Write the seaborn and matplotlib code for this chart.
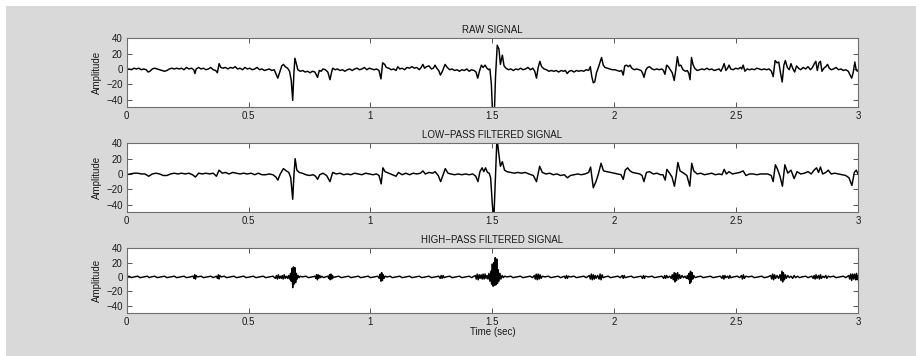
import matplotlib
matplotlib.use("Agg")
import matplotlib.pyplot as plt
import seaborn as sns
import numpy as np
from matplotlib.patches import Rectangle

# ---------------- data ----------------
titles = ["RAW SIGNAL", "LOW\u2212PASS FILTERED SIGNAL", "HIGH\u2212PASS FILTERED SIGNAL"]
x_ticks = [0, 0.5, 1, 1.5, 2, 2.5, 3]
x_tick_labels = ["0", "0.5", "1", "1.5", "2", "2.5", "3"]
y_ticks = [-40, -20, 0, 20, 40]
y_tick_labels = ["\u221240", "\u221220", "0", "20", "40"]

raw_points = [
    (0.000, -1), (0.010, 0), (0.020, -1), (0.030, 1), (0.040, 0), (0.050, 1), (0.060, -1), (0.070, 0),
    (0.080, -1), (0.088, -4), (0.095, -3), (0.105, 0), (0.115, 1), (0.125, 0), (0.135, -1), (0.145, -2),
    (0.155, -3), (0.165, -2), (0.175, 0), (0.185, 1), (0.195, 0), (0.205, 1), (0.215, 0), (0.225, 1),
    (0.235, -1), (0.245, 2), (0.255, 0), (0.265, 1), (0.275, -1), (0.280, -6), (0.285, 0), (0.295, 2),
    (0.305, 0), (0.315, 1), (0.325, -1), (0.335, 0), (0.345, 2), (0.355, -1), (0.365, -2), (0.372, -5),
    (0.379, 7), (0.386, 2), (0.395, 1), (0.405, 2), (0.415, 0), (0.425, 2), (0.435, 1), (0.445, 3),
    (0.455, 0), (0.465, 1), (0.475, -1), (0.485, 2), (0.495, 0), (0.505, 1), (0.515, -1), (0.525, 0),
    (0.535, 2), (0.545, -1), (0.555, 0), (0.565, -2), (0.575, -1), (0.585, 0), (0.595, -2), (0.605, -1),
    (0.612, -6), (0.620, -12), (0.628, -4), (0.636, 4), (0.643, 6), (0.650, 3), (0.660, 1), (0.668, -3),
    (0.675, -15), (0.681, -41), (0.686, -5), (0.690, 14), (0.695, 8), (0.702, -1), (0.712, -3), (0.722, -2),
    (0.732, -4), (0.742, -3), (0.752, -5), (0.762, -3), (0.772, -4), (0.778, -8), (0.783, -11), (0.790, -2),
    (0.798, -3), (0.805, 0), (0.815, -1), (0.825, -4), (0.834, -14), (0.840, -5), (0.845, 1), (0.855, -1),
    (0.865, 0), (0.875, -2), (0.885, -1), (0.895, -3), (0.905, -1), (0.915, 0), (0.925, -2), (0.935, 0),
    (0.945, 1), (0.955, -1), (0.965, 0), (0.975, 2), (0.985, -1), (0.995, 1), (1.005, 0), (1.015, -1),
    (1.025, 0), (1.035, -2), (1.043, -13), (1.050, 8), (1.058, 6), (1.065, 2), (1.075, 1), (1.085, -1),
    (1.095, 0), (1.105, -2), (1.112, 3), (1.120, 0), (1.130, 1), (1.140, -1), (1.150, 2), (1.160, 1),
    (1.170, 3), (1.180, 1), (1.190, 2), (1.200, -1), (1.208, 2), (1.215, 6), (1.222, 1), (1.230, 3),
    (1.240, 4), (1.250, 0), (1.258, 1), (1.265, 5), (1.272, 1), (1.280, -2), (1.287, -8), (1.295, -3),
    (1.306, 6), (1.315, 2), (1.325, -1), (1.335, 0), (1.345, -2), (1.355, -1), (1.365, -3), (1.375, -1),
    (1.385, -2), (1.395, 0), (1.405, -3), (1.415, -1), (1.425, -2), (1.433, -4), (1.440, -12), (1.447, -3),
    (1.455, 5), (1.462, 2), (1.470, 5), (1.478, 1), (1.485, -1), (1.490, 0), (1.496, -20), (1.501, -60),
    (1.508, -60), (1.513, -10), (1.520, 31), (1.527, 26), (1.533, 6), (1.541, 18), (1.548, 4), (1.556, 1),
    (1.566, -1), (1.576, 0), (1.586, -2), (1.596, 0), (1.606, -1), (1.616, 1), (1.626, -1), (1.636, 0),
    (1.646, 2), (1.656, -1), (1.666, 1), (1.674, -3), (1.681, -12), (1.688, 2), (1.695, 10), (1.702, 3),
    (1.712, 0), (1.722, -1), (1.732, -3), (1.742, -2), (1.752, -3), (1.762, -2), (1.772, -4), (1.782, -2),
    (1.792, -3), (1.800, -2), (1.807, -6), (1.815, -3), (1.825, -2), (1.835, -4), (1.845, -2), (1.855, -3),
    (1.865, -2), (1.875, -3), (1.885, -1), (1.895, -2), (1.902, 3), (1.908, -10), (1.914, -18), (1.920, -17),
    (1.927, -5), (1.935, 2), (1.942, 9), (1.948, 15), (1.955, 5), (1.962, 2), (1.972, 1), (1.982, 0),
    (1.992, -1), (2.002, -1), (2.012, -2), (2.022, -3), (2.030, -2), (2.037, -8), (2.043, 4), (2.050, 5),
    (2.058, 3), (2.065, 5), (2.072, 1), (2.082, -1), (2.092, 0), (2.102, -1), (2.110, -2), (2.116, -5),
    (2.122, -11), (2.130, -1), (2.137, 2), (2.145, 3), (2.155, 0), (2.165, -1), (2.175, 0), (2.185, -1),
    (2.195, 0), (2.202, -2), (2.208, -7), (2.215, 5), (2.222, 3), (2.230, -1), (2.238, -5), (2.246, -15),
    (2.253, 0), (2.259, 16), (2.266, 4), (2.273, 5), (2.282, -1), (2.292, -3), (2.300, -2), (2.306, -6),
    (2.311, -14), (2.317, 15), (2.323, 6), (2.330, 1), (2.340, -2), (2.350, -1), (2.360, 0), (2.370, -1),
    (2.380, 1), (2.390, -1), (2.400, 0), (2.410, -2), (2.420, -1), (2.430, 0), (2.438, -3), (2.445, 2),
    (2.451, 7), (2.458, -2), (2.465, 1), (2.471, 5), (2.478, 0), (2.488, -1), (2.498, 1), (2.508, 0),
    (2.518, 2), (2.523, 0), (2.529, 5), (2.536, -3), (2.545, 0), (2.555, -1), (2.565, 0), (2.575, -1),
    (2.585, 1), (2.595, 0), (2.605, -1), (2.615, 0), (2.625, -1), (2.635, 0), (2.645, -3), (2.652, -10),
    (2.660, 11), (2.668, 8), (2.675, 9), (2.682, -5), (2.689, -17), (2.696, 5), (2.702, 11), (2.710, 2),
    (2.718, -1), (2.725, 7), (2.732, 1), (2.740, -4), (2.748, 4), (2.756, 1), (2.765, -1), (2.775, 2),
    (2.785, 0), (2.795, 3), (2.805, -1), (2.813, 2), (2.821, 7), (2.827, 10), (2.833, -2), (2.840, 8),
    (2.846, 10), (2.852, -3), (2.860, 1), (2.868, 3), (2.875, 6), (2.882, 1), (2.890, -1), (2.900, 0),
    (2.910, 2), (2.920, -1), (2.930, 0), (2.940, -2), (2.950, -1), (2.960, -3), (2.968, -8), (2.974, -12),
    (2.980, -5), (2.987, 9), (2.993, -2), (3.000, -3),
]

low_points = [
    (0.000, -1), (0.015, 0), (0.030, 1), (0.045, 1), (0.060, 0), (0.075, 0), (0.090, -3), (0.105, 0),
    (0.120, 1), (0.135, 0), (0.150, -2), (0.165, -2), (0.180, 0), (0.195, 1), (0.210, 0), (0.225, 1),
    (0.240, 0), (0.255, 1), (0.270, -1), (0.282, -4), (0.295, 1), (0.310, 0), (0.325, 1), (0.340, 0),
    (0.355, 1), (0.368, -3), (0.379, 5), (0.392, 1), (0.405, 2), (0.420, 0), (0.435, 2), (0.450, 1),
    (0.465, 0), (0.480, 1), (0.495, 0), (0.510, 1), (0.525, -1), (0.540, 1), (0.555, -1), (0.570, -1),
    (0.585, 0), (0.600, -1), (0.612, -4), (0.620, -8), (0.630, 0), (0.643, 7), (0.655, 4), (0.665, 2),
    (0.673, -5), (0.681, -33), (0.686, -2), (0.691, 20), (0.698, 5), (0.708, 2), (0.720, 1), (0.735, -1),
    (0.750, -2), (0.765, -1), (0.775, -3), (0.783, -7), (0.792, -1), (0.805, 1), (0.820, -2), (0.834, -10),
    (0.845, 2), (0.860, 0), (0.875, 1), (0.890, -1), (0.905, 0), (0.920, -1), (0.935, 1), (0.950, 0),
    (0.965, -1), (0.980, 1), (0.995, 0), (1.010, -1), (1.025, 0), (1.035, -2), (1.044, -13), (1.051, 8),
    (1.060, 3), (1.075, 1), (1.090, -1), (1.105, -3), (1.115, 2), (1.130, -1), (1.145, 1), (1.160, -1),
    (1.175, 1), (1.190, 0), (1.205, 1), (1.215, 4), (1.225, 0), (1.240, 2), (1.255, 1), (1.265, 3),
    (1.278, -2), (1.288, -10), (1.297, -2), (1.307, 7), (1.318, 1), (1.330, 0), (1.345, -1), (1.360, 0),
    (1.375, -1), (1.390, 0), (1.405, -1), (1.420, 0), (1.432, -3), (1.441, -10), (1.449, 3), (1.458, 8),
    (1.465, 3), (1.472, 8), (1.480, 2), (1.487, 1), (1.493, -5), (1.500, -40), (1.506, -60), (1.512, -10),
    (1.519, 48), (1.525, 30), (1.533, 10), (1.541, 16), (1.550, 5), (1.560, 3), (1.575, 2), (1.590, 1),
    (1.605, 2), (1.620, 1), (1.635, 2), (1.650, 0), (1.668, -2), (1.681, -10), (1.694, 10), (1.705, 2),
    (1.720, 0), (1.735, 1), (1.750, -1), (1.765, 0), (1.780, -2), (1.795, -1), (1.808, -5), (1.820, -2),
    (1.835, -1), (1.850, 0), (1.865, -1), (1.880, 0), (1.895, 2), (1.903, 9), (1.914, -18), (1.925, -10),
    (1.935, 0), (1.946, 14), (1.956, 4), (1.970, 3), (1.985, 2), (2.000, 1), (2.015, 0), (2.028, -1),
    (2.037, -7), (2.045, 5), (2.055, 8), (2.065, 4), (2.075, 2), (2.090, 1), (2.105, 0), (2.114, -2),
    (2.122, -10), (2.132, 2), (2.145, 3), (2.160, 0), (2.175, 1), (2.190, -1), (2.200, -1), (2.209, -8),
    (2.216, 6), (2.225, 2), (2.237, -4), (2.247, -16), (2.255, 0), (2.261, 15), (2.270, 4), (2.285, 1),
    (2.298, -2), (2.310, -16), (2.318, 14), (2.326, 4), (2.340, 0), (2.355, 1), (2.370, -1), (2.385, 0),
    (2.400, 1), (2.415, -1), (2.430, 0), (2.442, -1), (2.451, 6), (2.460, 0), (2.471, 3), (2.485, 0),
    (2.500, 1), (2.515, 2), (2.529, 4), (2.540, -2), (2.555, 0), (2.570, 0), (2.585, -1), (2.600, 0),
    (2.615, 0), (2.630, 0), (2.644, -2), (2.652, -10), (2.661, 12), (2.670, 6), (2.680, -3), (2.690, -16),
    (2.700, 12), (2.712, 1), (2.725, 5), (2.738, -6), (2.750, 3), (2.765, 0), (2.780, 1), (2.795, 3),
    (2.808, 0), (2.820, 5), (2.830, 8), (2.838, 2), (2.846, 9), (2.855, 0), (2.868, 2), (2.878, 5),
    (2.890, 0), (2.905, 1), (2.920, 0), (2.935, -1), (2.950, -2), (2.963, -5), (2.975, -15), (2.985, 2),
    (2.993, 5), (3.000, 0),
]

high_points = [
    (0.000, 0), (0.010, 1), (0.020, -1), (0.030, 0), (0.045, 1), (0.055, -1), (0.070, 0), (0.085, 1),
    (0.092, -1), (0.100, 0), (0.115, 1), (0.125, -1), (0.140, 0), (0.155, 1), (0.165, -1), (0.180, 0),
    (0.195, 1), (0.205, -1), (0.220, 0), (0.235, 1), (0.245, -1), (0.260, 0), (0.272, 1), (0.276, -2),
    (0.279, 3), (0.282, -3), (0.285, 2), (0.290, 0), (0.305, 1), (0.315, -1), (0.330, 0), (0.345, 1),
    (0.355, -1), (0.368, 1), (0.372, -2), (0.376, 3), (0.379, -3), (0.382, 2), (0.388, 0), (0.400, 1),
    (0.410, -1), (0.425, 0), (0.440, 1), (0.450, -1), (0.465, 0), (0.480, 1), (0.490, -1), (0.505, 0),
    (0.520, 1), (0.530, -1), (0.545, 0), (0.560, 1), (0.570, -1), (0.585, 0), (0.600, 1), (0.610, -2),
    (0.614, 2), (0.618, -3), (0.622, 3), (0.626, -2), (0.630, 1), (0.634, -2), (0.638, 2), (0.642, -3),
    (0.646, 3), (0.650, -2), (0.655, 1), (0.660, -2), (0.664, 2), (0.668, -3), (0.672, 5), (0.675, -6),
    (0.678, 12), (0.681, -15), (0.684, 14), (0.687, -10), (0.690, 13), (0.693, -8), (0.696, 5), (0.699, -3),
    (0.703, 2), (0.707, -1), (0.712, 1), (0.720, 0), (0.735, 1), (0.745, -1), (0.760, 0), (0.772, 1),
    (0.776, -2), (0.779, 3), (0.782, -4), (0.785, 3), (0.788, -2), (0.792, 2), (0.796, -1), (0.800, 1),
    (0.808, -1), (0.815, 0), (0.825, 1), (0.829, -2), (0.832, 3), (0.835, -4), (0.838, 4), (0.841, -3),
    (0.844, 2), (0.848, -1), (0.855, 0), (0.870, 1), (0.880, -1), (0.895, 0), (0.910, 1), (0.920, -1),
    (0.935, 0), (0.950, 1), (0.960, -1), (0.975, 0), (0.990, 1), (1.000, -1), (1.015, 0), (1.030, 1),
    (1.036, -2), (1.040, 4), (1.043, -6), (1.046, 6), (1.049, -5), (1.052, 3), (1.056, -2), (1.060, 1),
    (1.068, 0), (1.080, 1), (1.090, -1), (1.105, 0), (1.120, 1), (1.130, -1), (1.145, 0), (1.160, 1),
    (1.170, -1), (1.185, 0), (1.200, 1), (1.210, -1), (1.225, 0), (1.240, 1), (1.250, -1), (1.265, 0),
    (1.280, 1), (1.286, -2), (1.290, 2), (1.294, -2), (1.298, 2), (1.302, -1), (1.310, 0), (1.325, 1),
    (1.335, -1), (1.350, 0), (1.365, 1), (1.375, -1), (1.390, 0), (1.405, 1), (1.415, -1), (1.430, 2),
    (1.434, -3), (1.438, 4), (1.442, -4), (1.446, 3), (1.450, -2), (1.454, 3), (1.458, -3), (1.462, 4),
    (1.466, -3), (1.470, 4), (1.474, -2), (1.478, 2), (1.482, -3), (1.486, 5), (1.490, -6), (1.494, 8),
    (1.497, -10), (1.500, 18), (1.503, -13), (1.506, 20), (1.509, -12), (1.512, 27), (1.515, -11), (1.518, 25),
    (1.521, -9), (1.524, 10), (1.527, -6), (1.531, 5), (1.535, -3), (1.540, 2), (1.545, -1), (1.550, 1),
    (1.560, 0), (1.575, 1), (1.585, -1), (1.600, 0), (1.615, 1), (1.625, -1), (1.640, 0), (1.655, 1),
    (1.665, -1), (1.672, 2), (1.676, -3), (1.680, 4), (1.684, -4), (1.688, 4), (1.692, -3), (1.696, 3),
    (1.700, -2), (1.705, 1), (1.715, 0), (1.730, 1), (1.740, -1), (1.755, 0), (1.770, 1), (1.780, -1),
    (1.795, 1), (1.800, -2), (1.804, 2), (1.808, -2), (1.812, 1), (1.820, 0), (1.835, 1), (1.845, -1),
    (1.860, 0), (1.875, 1), (1.885, -1), (1.898, 2), (1.902, -3), (1.906, 4), (1.910, -4), (1.914, 3),
    (1.918, -3), (1.922, 2), (1.926, -2), (1.932, 2), (1.938, -3), (1.942, 4), (1.946, -4), (1.950, 3),
    (1.955, -1), (1.962, 0), (1.975, 1), (1.985, -1), (2.000, 0), (2.015, 1), (2.025, -1), (2.033, 2),
    (2.037, -2), (2.041, 2), (2.045, -1), (2.055, 0), (2.070, 1), (2.080, -1), (2.095, 0), (2.110, 1),
    (2.116, -2), (2.120, 2), (2.124, -2), (2.128, 1), (2.140, 0), (2.155, 1), (2.165, -1), (2.180, 0),
    (2.195, 1), (2.203, -2), (2.207, 2), (2.211, -2), (2.215, 2), (2.220, -1), (2.228, 1), (2.234, -2),
    (2.238, 3), (2.242, -4), (2.246, 6), (2.249, -7), (2.252, 5), (2.256, -5), (2.260, 6), (2.264, -3),
    (2.268, 3), (2.272, -2), (2.278, 2), (2.284, -1), (2.290, 1), (2.296, -2), (2.300, 2), (2.304, -3),
    (2.307, 5), (2.310, -9), (2.313, 8), (2.316, -7), (2.319, 6), (2.322, -3), (2.326, 2), (2.332, -1),
    (2.340, 0), (2.355, 1), (2.365, -1), (2.380, 0), (2.395, 1), (2.405, -1), (2.420, 0), (2.435, 1),
    (2.442, -2), (2.446, 2), (2.450, -3), (2.454, 2), (2.458, -1), (2.465, 1), (2.470, -2), (2.474, 2),
    (2.478, -1), (2.490, 0), (2.505, 1), (2.515, -1), (2.522, 2), (2.526, -3), (2.530, 3), (2.534, -2),
    (2.540, 1), (2.550, 0), (2.565, 1), (2.575, -1), (2.590, 0), (2.605, 1), (2.615, -1), (2.630, 0),
    (2.642, 2), (2.646, -3), (2.650, 4), (2.654, -4), (2.658, 3), (2.662, -2), (2.668, 2), (2.674, -2),
    (2.680, 3), (2.684, -5), (2.688, 8), (2.691, -7), (2.694, 6), (2.698, -4), (2.702, 3), (2.706, -2),
    (2.712, 2), (2.718, -1), (2.725, 1), (2.732, -2), (2.738, 2), (2.744, -1), (2.752, 1), (2.760, -1),
    (2.770, 0), (2.785, 1), (2.795, -1), (2.810, 1), (2.816, -2), (2.820, 2), (2.824, -3), (2.828, 3),
    (2.832, -2), (2.838, 2), (2.842, -3), (2.846, 3), (2.850, -2), (2.856, 1), (2.862, -1), (2.868, 2),
    (2.872, -2), (2.878, 1), (2.885, 0), (2.900, 1), (2.910, -1), (2.925, 0), (2.940, 1), (2.950, -1),
    (2.962, 2), (2.966, -3), (2.970, 4), (2.974, -5), (2.978, 4), (2.982, -3), (2.986, 4), (2.990, -4),
    (2.994, 5), (2.997, -4), (3.000, 2),
]

# ---------------- style ----------------
sns.set_theme(style="ticks")
plt.rcParams["font.family"] = ["Liberation Sans", "DejaVu Sans"]
plt.rcParams["axes.unicode_minus"] = True

W, H = 916, 356
fig = plt.figure(figsize=(W / 100, H / 100), dpi=100)
fig.patch.set_facecolor("white")
bg = Rectangle((6 / W, 0), 1 - 6 / W, 1 - 6 / H, transform=fig.transFigure,
               facecolor="#d9d9d9", edgecolor="none", zorder=-10)
fig.add_artist(bg)

left = 126.7 / W
width = (858.0 - 126.7) / W
boxes = [(38.3, 107.3), (143.3, 212.3), (248.3, 312.7)]
series = [raw_points, low_points, high_points]
fs = 7

for i, ((top, bot), pts, title) in enumerate(zip(boxes, series, titles)):
    ax = fig.add_axes([left, 1 - bot / H, width, (bot - top) / H])
    ax.set_zorder(1)
    ax.set_facecolor("white")
    t = [p[0] for p in pts]
    v = [p[1] for p in pts]
    sns.lineplot(x=t, y=v, ax=ax, color="black", linewidth=1.05, estimator=None, sort=False)
    ax.set_xlim(0, 3)
    ax.set_ylim(-50, 40)
    ax.set_xticks(x_ticks)
    ax.set_xticklabels(x_tick_labels)
    ax.set_yticks(y_ticks)
    ax.set_yticklabels(y_tick_labels)
    ax.tick_params(direction="in", length=3.5, width=0.7, colors="#555555",
                   labelcolor="#1a1a1a", labelsize=fs, top=True, right=True, pad=3)
    for s in ax.spines.values():
        s.set_color("#6e6e6e")
        s.set_linewidth(0.8)
    ax.set_ylabel("Amplitude", fontsize=fs, color="#1a1a1a", labelpad=3)
    ax.set_title(title, fontsize=fs, color="#1a1a1a", pad=3.5)
    if i == 2:
        ax.set_xlabel("Time (sec)", fontsize=fs, color="#1a1a1a", labelpad=0.0)
    else:
        ax.set_xlabel("")

fig.savefig("out.png", dpi=100, facecolor=fig.get_facecolor())
